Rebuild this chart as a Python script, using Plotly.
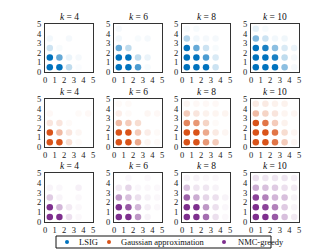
import plotly.graph_objects as go

# page has an 8px body margin; figure coordinates = page pixels - 8
OFF = 8
PW, PH = 332, 249
W, H = PW - OFF, PH - OFF

methods = ["LSIG", "Gaussian approximation", "NMC-greedy"]
colors = ["#0072BD", "#D95319", "#7E2F8E"]
k_values = [4, 6, 8, 10]
grid_x = [0.5, 1.5, 2.5, 3.5, 4.5]
grid_y = [0.5, 1.5, 2.5, 3.5, 4.5]
tick_vals = [0, 1, 2, 3, 4, 5]

# alpha[method][k][row y0..y4][col x0..x4]
lsig = [
    [[1.0, 1.0, 0.25, 0.02, 0], [1.0, 0.6, 0.08, 0.04, 0], [0.2, 0.03, 0, 0, 0], [0.05, 0, 0.04, 0, 0], [0, 0, 0, 0, 0]],
    [[1.0, 1.0, 0.7, 0.03, 0], [1.0, 1.0, 0.25, 0.08, 0], [0.6, 0.25, 0, 0, 0], [0.05, 0, 0.03, 0.04, 0], [0.04, 0, 0, 0, 0]],
    [[1.0, 1.0, 1.0, 0.2, 0], [1.0, 1.0, 0.7, 0.15, 0], [1.0, 0.6, 0.2, 0.03, 0], [0.3, 0.05, 0.04, 0.04, 0], [0.03, 0.03, 0, 0, 0]],
    [[1.0, 1.0, 1.0, 0.45, 0.04], [1.0, 1.0, 0.9, 0.25, 0.04], [1.0, 0.9, 0.45, 0.15, 0.08], [0.5, 0.2, 0.05, 0.06, 0], [0.1, 0.03, 0, 0, 0]],
]
gauss = [
    [[1.0, 1.0, 0.2, 0.03, 0], [1.0, 0.4, 0.15, 0.05, 0], [0.15, 0.15, 0.03, 0, 0], [0.04, 0, 0, 0.03, 0.04], [0, 0, 0, 0, 0]],
    [[1.0, 1.0, 0.5, 0.06, 0.03], [1.0, 1.0, 0.3, 0.1, 0.03], [0.4, 0.3, 0.2, 0, 0], [0.1, 0.03, 0, 0.05, 0.04], [0.03, 0.03, 0, 0, 0]],
    [[1.0, 1.0, 0.6, 0.3, 0], [1.0, 1.0, 0.5, 0.12, 0.05], [0.7, 0.6, 0.25, 0.03, 0], [0.3, 0.15, 0.08, 0.06, 0.06], [0.05, 0.04, 0.04, 0.04, 0]],
    [[1.0, 1.0, 0.8, 0.3, 0.05], [1.0, 1.0, 0.8, 0.2, 0.05], [1.0, 0.8, 0.3, 0.08, 0], [0.4, 0.25, 0.15, 0.06, 0.05], [0.12, 0.12, 0.08, 0.08, 0]],
]
nmc = [
    [[1.0, 1.0, 0.15, 0.03, 0], [1.0, 0.35, 0.1, 0.03, 0], [0.25, 0.05, 0, 0.03, 0], [0.05, 0.04, 0, 0.07, 0], [0, 0, 0, 0, 0]],
    [[1.0, 1.0, 0.5, 0.06, 0], [1.0, 0.8, 0.35, 0.08, 0.03], [0.5, 0.3, 0.15, 0.06, 0.03], [0.1, 0.2, 0.04, 0.03, 0.03], [0, 0.04, 0, 0.03, 0]],
    [[1.0, 1.0, 0.7, 0.15, 0.03], [1.0, 1.0, 0.5, 0.15, 0.04], [0.75, 0.4, 0.2, 0.15, 0.05], [0.3, 0.12, 0.12, 0.06, 0], [0.06, 0.06, 0.03, 0.03, 0]],
    [[1.0, 1.0, 0.8, 0.3, 0.1], [1.0, 0.9, 0.6, 0.25, 0.05], [0.9, 0.6, 0.35, 0.3, 0.06], [0.4, 0.3, 0.25, 0.15, 0.1], [0.15, 0.12, 0.12, 0.12, 0.08]],
]
alphas = [lsig, gauss, nmc]

# page-pixel layout of the axes boxes
col_px = [(45, 93), (114, 162), (182, 230), (251, 299)]
row_px = [(24, 72), (99, 147), (173, 222)]
# page-pixel layout of the legend box and its entries
leg_box = (56, 236, 271, 248)
leg_sym_x = [67, 109, 224]
leg_txt_x = [77, 119, 236]

FONT = "Liberation Serif, DejaVu Serif, serif"
fig = go.Figure()
annotations = []
n = 0
for r in range(3):
    for c in range(4):
        n += 1
        xs, ys, ops = [], [], []
        A = alphas[r][c]
        for j, yv in enumerate(grid_y):
            for i, xv in enumerate(grid_x):
                a = A[j][i]
                if a <= 0:
                    continue
                xs.append(xv)
                ys.append(yv)
                ops.append(a)
        suffix = "" if n == 1 else str(n)
        fig.add_trace(go.Scatter(
            x=xs, y=ys, mode="markers", name=methods[r],
            marker=dict(color=colors[r], size=6.5, opacity=ops, line=dict(width=0)),
            showlegend=False, hoverinfo="skip",
            xaxis="x" + suffix, yaxis="y" + suffix,
        ))
        x0, x1 = [v - OFF for v in col_px[c]]
        y0, y1 = [v - OFF for v in row_px[r]]
        ax = dict(range=[0, 5], tickvals=tick_vals, showgrid=False, zeroline=False,
                  showline=True, mirror=True, linecolor="#333", linewidth=1,
                  ticks="", tickfont=dict(family=FONT, size=8.5, color="#222"),
                  fixedrange=True, automargin=False)
        fig.layout["xaxis" + suffix] = dict(ax, domain=[x0 / W, x1 / W],
                                            anchor="y" + suffix, ticklabelstandoff=0)
        fig.layout["yaxis" + suffix] = dict(ax, domain=[1 - y1 / H, 1 - y0 / H],
                                            anchor="x" + suffix, ticklabelstandoff=1)
        annotations.append(dict(
            text="<i>k</i> = %d" % k_values[c], x=(x0 + x1) / 2 / W, y=1 - (y0 - 7) / H,
            xref="paper", yref="paper", xanchor="center", yanchor="middle",
            showarrow=False, font=dict(family=FONT, size=9.5, color="#111"),
        ))

# legend drawn on a hidden full-page axis measured in page pixels
n += 1
ls = str(n)
leg_y = (leg_box[1] + leg_box[3]) / 2
fig.add_trace(go.Scatter(
    x=leg_sym_x, y=[leg_y] * len(methods), mode="markers",
    marker=dict(color=colors, size=4, line=dict(width=0)),
    showlegend=False, hoverinfo="skip", xaxis="x" + ls, yaxis="y" + ls,
))
fig.layout["xaxis" + ls] = dict(domain=[0, 1], range=[OFF, PW], visible=False, fixedrange=True)
fig.layout["yaxis" + ls] = dict(domain=[0, 1], range=[PH, OFF], visible=False, fixedrange=True)
for m, tx in zip(methods, leg_txt_x):
    annotations.append(dict(
        text=m, x=tx, y=leg_y, xref="x" + ls, yref="y" + ls, xanchor="left", yanchor="middle",
        showarrow=False, font=dict(family=FONT, size=8.5, color="#111"),
    ))
shapes = [dict(type="rect", xref="x" + ls, yref="y" + ls,
               x0=leg_box[0], y0=leg_box[1], x1=leg_box[2], y1=leg_box[3],
               line=dict(color="#111", width=1), fillcolor="rgba(0,0,0,0)", layer="above")]

fig.update_layout(
    width=W, height=H, margin=dict(l=0, r=0, t=0, b=0, autoexpand=False),
    paper_bgcolor="white", plot_bgcolor="rgba(0,0,0,0)",
    annotations=annotations, shapes=shapes,
    showlegend=False,
)
fig.write_html("out.html")
